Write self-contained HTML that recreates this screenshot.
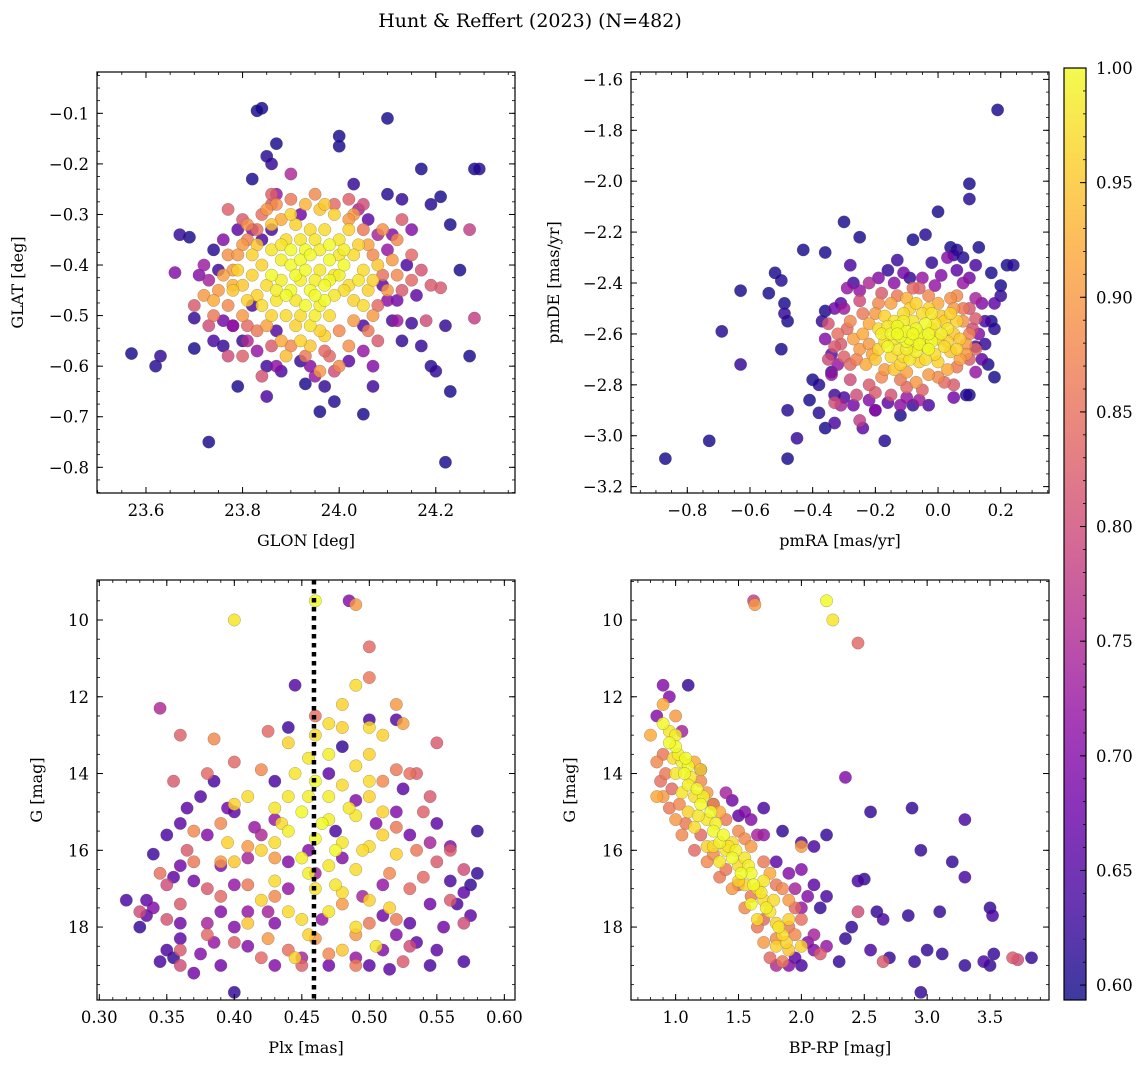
<!DOCTYPE html>
<html><head><meta charset="utf-8"><style>
html,body{margin:0;padding:0;background:#fff;}
svg{display:block;font-family:"DejaVu Serif","Liberation Serif",serif;}
</style></head><body>
<svg id="fig" width="1148" height="1068" viewBox="0 0 1148 1068">
<text x="530" y="27" font-size="19" text-anchor="middle">Hunt &amp; Reffert (2023) (N=482)</text>
</svg>
<script>
// ---- data: [x, y, membership probability] ----
const glonGlat = [
[23.57,-0.575,0.6],[23.62,-0.6,0.61],[23.63,-0.58,0.62],[23.67,-0.34,0.62],[23.69,-0.345,0.6],[23.66,-0.415,0.7],[23.70,-0.505,0.62],[23.70,-0.565,0.6],[23.73,-0.75,0.6],[23.74,-0.37,0.61],[23.75,-0.41,0.63],[23.76,-0.56,0.62],[23.79,-0.64,0.6],[23.82,-0.23,0.6],[23.84,-0.09,0.6],[23.83,-0.095,0.6],[23.85,-0.185,0.61],[23.87,-0.16,0.6],[23.86,-0.20,0.62],[23.90,-0.22,0.75],[23.96,-0.69,0.6],[23.99,-0.67,0.61],[24.0,-0.145,0.6],[24.0,-0.165,0.6],[24.03,-0.24,0.62],[24.05,-0.695,0.6],[24.07,-0.64,0.63],[24.10,-0.11,0.6],[24.10,-0.26,0.61],[24.13,-0.27,0.62],[24.17,-0.21,0.6],[24.19,-0.28,0.61],[24.21,-0.265,0.6],[24.22,-0.79,0.6],[24.23,-0.65,0.6],[24.20,-0.61,0.62],[24.19,-0.60,0.61],[24.23,-0.32,0.6],[24.25,-0.41,0.6],[24.27,-0.58,0.6],[24.28,-0.21,0.6],[24.29,-0.21,0.61],[24.27,-0.33,0.78],[24.28,-0.505,0.78],[24.17,-0.56,0.62],[24.15,-0.515,0.63],[24.22,-0.52,0.62],[24.21,-0.445,0.82],[24.13,-0.55,0.62],[24.11,-0.51,0.64],[23.93,-0.635,0.6],[23.92,-0.59,0.62],[23.85,-0.60,0.63],[23.80,-0.55,0.62],[23.82,-0.48,0.64],[23.78,-0.52,0.7],[23.87,-0.53,0.65],[24.05,-0.52,0.64],[24.09,-0.44,0.66],[23.86,-0.33,0.64],
[23.90,-0.40,1.0],[23.92,-0.43,0.99],[23.94,-0.45,1.0],[23.96,-0.41,0.98],[23.98,-0.39,1.0],[24.00,-0.42,0.99],[24.02,-0.44,0.97],[23.93,-0.37,1.0],[23.95,-0.35,0.98],[23.97,-0.33,0.97],[23.99,-0.30,0.96],[23.88,-0.43,0.99],[23.87,-0.47,0.98],[23.89,-0.50,0.97],[23.91,-0.52,0.96],[23.93,-0.48,1.0],[23.95,-0.50,0.99],[23.97,-0.47,1.0],[23.99,-0.46,0.98],[24.01,-0.40,1.0],[24.03,-0.38,0.97],[24.04,-0.43,0.98],[24.06,-0.45,0.96],[24.05,-0.48,0.97],[23.85,-0.44,0.97],[23.84,-0.40,0.96],[23.86,-0.37,0.98],[23.89,-0.35,0.97],[23.91,-0.32,0.96],[23.96,-0.29,0.95],[24.00,-0.35,0.98],[24.02,-0.33,0.96],[23.94,-0.56,0.95],[23.97,-0.54,0.96],[24.08,-0.40,0.95],[23.83,-0.46,0.96],[23.92,-0.39,1.0],[23.98,-0.43,1.0],[24.01,-0.37,0.99],[23.90,-0.45,1.0],[23.83,-0.36,0.95],[23.82,-0.42,0.96],[23.89,-0.58,0.94],
[23.86,-0.42,1.0],[23.88,-0.39,0.99],[23.90,-0.37,1.0],[23.92,-0.35,0.98],[23.94,-0.38,1.0],[23.96,-0.37,0.99],[23.98,-0.36,1.0],[24.00,-0.38,0.98],[23.91,-0.42,1.0],[23.93,-0.41,1.0],[23.95,-0.43,0.99],[23.97,-0.44,1.0],[23.99,-0.42,0.98],[24.01,-0.45,0.97],[23.87,-0.45,0.99],[23.89,-0.46,1.0],[23.91,-0.47,0.98],[23.95,-0.46,1.0],[23.96,-0.48,0.99],[23.92,-0.50,0.97],[23.94,-0.52,0.98],[23.96,-0.53,0.96],[23.80,-0.44,0.95],[23.81,-0.47,0.96],[23.78,-0.45,0.95],[23.79,-0.41,0.96],[23.84,-0.48,0.97],[23.86,-0.50,0.96],[24.05,-0.41,0.97],[24.07,-0.43,0.96],[23.94,-0.33,0.97],[23.90,-0.30,0.96],[23.86,-0.32,0.95],[23.97,-0.28,0.95],[23.92,-0.55,0.96],[23.98,-0.50,0.97],[24.03,-0.47,0.96],[23.82,-0.38,0.96],[23.88,-0.36,0.98],[24.04,-0.36,0.96],
[23.72,-0.46,0.9],[23.74,-0.47,0.92],[23.76,-0.42,0.91],[23.78,-0.44,0.93],[23.80,-0.36,0.9],[23.81,-0.32,0.89],[23.85,-0.29,0.9],[23.88,-0.31,0.92],[23.93,-0.28,0.93],[24.03,-0.30,0.9],[24.06,-0.36,0.91],[24.09,-0.33,0.89],[24.11,-0.39,0.9],[24.12,-0.42,0.88],[24.07,-0.50,0.9],[24.02,-0.56,0.89],[24.00,-0.60,0.88],[23.96,-0.61,0.9],[23.88,-0.55,0.92],[23.85,-0.52,0.91],[23.80,-0.50,0.9],[23.77,-0.38,0.89],[24.12,-0.35,0.88],
[23.75,-0.45,0.9],[23.74,-0.50,0.86],[23.77,-0.48,0.88],[23.79,-0.38,0.9],[23.81,-0.35,0.87],[23.84,-0.30,0.85],[23.87,-0.28,0.89],[23.90,-0.27,0.86],[23.95,-0.26,0.88],[23.99,-0.28,0.84],[24.02,-0.31,0.9],[24.05,-0.33,0.86],[24.07,-0.38,0.88],[24.09,-0.42,0.85],[24.10,-0.45,0.9],[24.08,-0.48,0.84],[24.06,-0.53,0.86],[24.03,-0.51,0.9],[24.00,-0.53,0.88],[23.98,-0.58,0.84],[23.93,-0.58,0.86],[23.90,-0.56,0.88],[23.86,-0.56,0.82],[23.83,-0.53,0.86],[23.81,-0.52,0.84],[23.78,-0.41,0.9],[24.13,-0.45,0.82],[24.15,-0.43,0.84],[24.19,-0.44,0.82],[23.86,-0.26,0.83],[23.80,-0.31,0.82],
[23.70,-0.48,0.82],[23.73,-0.52,0.8],[23.77,-0.29,0.83],[23.83,-0.33,0.85],[23.86,-0.28,0.82],[24.02,-0.27,0.83],[24.05,-0.28,0.8],[24.13,-0.31,0.82],[24.15,-0.38,0.84],[24.17,-0.41,0.81],[24.08,-0.55,0.82],[23.97,-0.57,0.84],[23.99,-0.61,0.8],[23.84,-0.62,0.81],[23.80,-0.58,0.83],[23.77,-0.58,0.8],[24.18,-0.51,0.8],
[23.72,-0.40,0.73],[23.78,-0.52,0.72],[23.81,-0.55,0.75],[23.82,-0.33,0.7],[24.08,-0.34,0.74],[24.10,-0.37,0.72],[24.10,-0.47,0.71],[24.12,-0.51,0.73],[23.95,-0.62,0.72],[24.07,-0.60,0.7],[23.73,-0.43,0.74],[23.87,-0.60,0.71],
[23.76,-0.35,0.7],[23.79,-0.33,0.66],[23.84,-0.35,0.64],[23.87,-0.26,0.72],[23.92,-0.30,0.68],[24.04,-0.29,0.74],[24.06,-0.31,0.66],[24.11,-0.34,0.7],[24.14,-0.40,0.64],[24.12,-0.47,0.68],[24.05,-0.57,0.72],[24.02,-0.59,0.66],[23.94,-0.60,0.7],[23.88,-0.61,0.64],[23.83,-0.57,0.72],[23.76,-0.51,0.68],[23.74,-0.55,0.64],[23.71,-0.42,0.7],[24.16,-0.46,0.66],[23.97,-0.64,0.62],[23.85,-0.66,0.64],[24.15,-0.33,0.7]
];
const pmraPmde = [
[-0.87,-3.09,0.6],[-0.73,-3.02,0.6],[-0.69,-2.59,0.61],[-0.63,-2.43,0.6],[-0.63,-2.72,0.62],[-0.54,-2.44,0.6],[-0.52,-2.36,0.6],[-0.50,-2.39,0.61],[-0.49,-2.48,0.6],[-0.49,-2.52,0.62],[-0.48,-2.55,0.6],[-0.50,-2.66,0.6],[-0.48,-2.90,0.61],[-0.48,-3.09,0.6],[-0.45,-3.01,0.62],[-0.43,-2.27,0.6],[-0.41,-2.86,0.6],[-0.40,-2.78,0.6],[-0.38,-2.80,0.61],[-0.37,-2.55,0.62],[-0.36,-2.51,0.6],[-0.36,-2.28,0.6],[-0.38,-2.91,0.61],[-0.36,-2.97,0.6],[-0.34,-2.75,0.62],[-0.33,-2.84,0.63],[-0.30,-2.16,0.6],[-0.25,-2.22,0.6],[0.19,-1.72,0.6],[0.10,-2.01,0.6],[0.10,-2.07,0.61],[0.00,-2.12,0.6],[-0.08,-2.23,0.6],[-0.04,-2.21,0.61],[-0.02,-2.32,0.62],[0.04,-2.26,0.6],[0.06,-2.27,0.61],[0.13,-2.26,0.6],[0.17,-2.36,0.6],[0.22,-2.33,0.6],[0.24,-2.33,0.61],[0.20,-2.41,0.6],[0.20,-2.45,0.62],[0.17,-2.55,0.6],[0.18,-2.58,0.61],[0.15,-2.64,0.62],[0.12,-2.65,0.63],[0.16,-2.72,0.6],[0.18,-2.77,0.6],[0.09,-2.84,0.61],[0.10,-2.84,0.6],[-0.17,-3.02,0.61],[-0.12,-2.92,0.6],[-0.08,-2.88,0.62],[-0.20,-2.90,0.7],[-0.30,-2.85,0.64],[-0.27,-2.40,0.63],[-0.31,-2.48,0.65],[-0.16,-2.35,0.62],[-0.13,-2.31,0.63],[-0.09,-2.38,0.62],[0.05,-2.29,0.62],[0.08,-2.30,0.61],
[-0.15,-2.60,1.0],[-0.12,-2.58,0.99],[-0.10,-2.63,1.0],[-0.08,-2.55,0.98],[-0.06,-2.60,1.0],[-0.04,-2.65,0.99],[-0.02,-2.58,0.98],[0.00,-2.62,0.97],[0.02,-2.55,0.96],[-0.13,-2.66,0.98],[-0.11,-2.69,0.97],[-0.09,-2.62,1.0],[-0.07,-2.67,0.99],[-0.05,-2.52,0.97],[-0.03,-2.50,0.96],[-0.01,-2.68,0.97],[0.03,-2.63,0.96],[0.05,-2.60,0.95],[-0.17,-2.63,0.97],[-0.19,-2.66,0.96],[-0.14,-2.55,0.98],[-0.09,-2.50,0.96],[-0.06,-2.71,0.96],[0.01,-2.53,0.95],[-0.20,-2.70,0.95],[-0.16,-2.57,0.98],[-0.04,-2.56,1.0],[0.04,-2.67,0.95],[-0.12,-2.61,1.0],[-0.02,-2.63,1.0],
[-0.18,-2.60,0.99],[-0.16,-2.65,1.0],[-0.14,-2.62,0.98],[-0.13,-2.57,1.0],[-0.11,-2.55,0.99],[-0.10,-2.59,1.0],[-0.08,-2.65,0.98],[-0.07,-2.58,1.0],[-0.05,-2.62,0.99],[-0.03,-2.60,1.0],[-0.01,-2.56,0.98],[0.01,-2.60,0.99],[0.02,-2.65,0.97],[0.03,-2.58,0.98],[0.06,-2.55,0.96],[0.07,-2.62,0.95],[-0.15,-2.69,0.97],[-0.12,-2.72,0.96],[-0.09,-2.70,0.98],[-0.04,-2.70,0.97],[0.00,-2.71,0.96],[-0.11,-2.52,0.97],[-0.07,-2.48,0.96],[-0.02,-2.52,0.98],[-0.17,-2.53,0.96],[-0.06,-2.64,1.0],[-0.10,-2.66,0.99],[-0.03,-2.66,1.0],[0.04,-2.52,0.96],[-0.08,-2.60,1.0],[-0.14,-2.74,0.95],[-0.13,-2.60,1.0],[0.06,-2.66,0.96],[-0.19,-2.58,0.97],
[-0.25,-2.66,0.9],[-0.27,-2.62,0.91],[-0.22,-2.56,0.92],[-0.20,-2.52,0.9],[-0.15,-2.48,0.91],[-0.10,-2.46,0.93],[0.00,-2.48,0.92],[0.05,-2.50,0.9],[0.08,-2.55,0.89],[0.09,-2.64,0.9],[0.07,-2.70,0.91],[0.03,-2.74,0.92],[-0.03,-2.76,0.9],[-0.10,-2.75,0.91],[-0.17,-2.74,0.9],[-0.23,-2.72,0.92],[-0.28,-2.55,0.88],[0.06,-2.45,0.88],
[-0.24,-2.60,0.92],[-0.22,-2.64,0.9],[-0.21,-2.68,0.91],[-0.26,-2.70,0.87],[-0.18,-2.77,0.88],[-0.12,-2.78,0.86],[-0.07,-2.79,0.9],[0.00,-2.77,0.88],[0.06,-2.73,0.86],[0.09,-2.68,0.9],[0.10,-2.60,0.87],[0.08,-2.50,0.86],[0.04,-2.46,0.89],[-0.03,-2.45,0.88],[-0.13,-2.45,0.86],[-0.19,-2.48,0.88],[-0.24,-2.52,0.86],[-0.29,-2.58,0.84],[-0.31,-2.64,0.82],[-0.28,-2.72,0.84],[-0.20,-2.83,0.82],[-0.10,-2.81,0.84],[0.05,-2.80,0.82],[0.12,-2.54,0.82],[0.12,-2.66,0.84],[-0.26,-2.84,0.8],[-0.35,-2.70,0.8],[-0.08,-2.42,0.84],
[-0.33,-2.65,0.82],[-0.30,-2.69,0.83],[-0.32,-2.60,0.85],[-0.28,-2.78,0.8],[-0.22,-2.80,0.82],[-0.15,-2.84,0.81],[-0.05,-2.82,0.83],[0.02,-2.79,0.84],[0.10,-2.70,0.82],[0.11,-2.58,0.8],[0.10,-2.50,0.81],[-0.06,-2.42,0.83],[-0.18,-2.44,0.82],[-0.25,-2.47,0.8],[-0.35,-2.56,0.81],[-0.25,-2.94,0.78],[-0.33,-2.87,0.8],
[-0.30,-2.50,0.73],[-0.29,-2.42,0.72],[-0.22,-2.40,0.75],[-0.14,-2.40,0.71],[0.08,-2.40,0.72],[0.12,-2.46,0.74],[0.13,-2.60,0.7],[0.12,-2.75,0.72],[-0.06,-2.86,0.73],[-0.12,-2.88,0.71],[-0.20,-2.90,0.7],[-0.34,-2.76,0.72],[-0.31,-2.88,0.74],[0.03,-2.30,0.7],[-0.01,-2.41,0.72],
[-0.36,-2.62,0.7],[-0.34,-2.68,0.66],[-0.32,-2.72,0.72],[-0.27,-2.88,0.68],[-0.22,-2.86,0.7],[-0.16,-2.87,0.66],[-0.10,-2.85,0.72],[-0.03,-2.88,0.64],[0.05,-2.85,0.68],[0.14,-2.70,0.66],[0.15,-2.55,0.64],[0.14,-2.48,0.7],[0.10,-2.38,0.68],[0.06,-2.35,0.66],[0.01,-2.37,0.7],[-0.05,-2.38,0.72],[-0.11,-2.36,0.68],[-0.19,-2.38,0.7],[-0.25,-2.43,0.72],[-0.33,-2.50,0.68],[-0.28,-2.33,0.64],[-0.33,-2.95,0.64],[-0.24,-2.97,0.66],[0.12,-2.33,0.64],[0.18,-2.48,0.66]
];
const plxG = [
[0.46,9.5,1.0],[0.40,10.0,0.98],[0.49,11.7,0.97],[0.47,12.7,0.97],[0.48,12.8,0.96],[0.50,12.8,0.97],[0.455,13.6,0.98],[0.47,13.5,0.99],[0.49,13.8,0.97],[0.50,13.5,0.96],[0.445,14.0,0.98],[0.46,14.2,1.0],[0.48,14.3,0.97],[0.50,14.6,0.96],[0.40,14.8,0.96],[0.41,14.6,0.97],[0.43,14.9,0.98],[0.45,15.0,1.0],[0.47,15.2,0.99],[0.49,15.1,0.98],[0.51,15.0,0.96],[0.44,15.5,0.99],[0.46,15.7,1.0],[0.48,15.8,0.98],[0.50,15.9,0.97],[0.42,16.0,0.96],[0.45,16.2,0.99],[0.47,16.4,0.98],[0.49,16.5,0.97],[0.52,16.1,0.96],[0.43,16.8,0.97],[0.46,17.0,0.98],[0.48,17.1,0.97],[0.50,17.3,0.96],[0.44,17.6,0.97],[0.455,18.2,0.96],[0.49,18.0,0.97],[0.505,18.5,0.98],[0.41,17.9,0.95],[0.395,15.8,0.96],[0.47,14.6,0.99],[0.51,13.0,0.96],[0.475,16.0,1.0],[0.435,15.3,0.97],
[0.44,13.2,0.96],[0.46,13.0,0.97],[0.48,12.2,0.96],[0.455,14.6,0.99],[0.465,15.3,1.0],[0.485,14.9,0.98],[0.50,14.2,0.97],[0.44,14.6,0.98],[0.43,15.8,0.97],[0.455,16.6,0.99],[0.475,16.9,0.98],[0.495,16.0,0.97],[0.51,15.6,0.96],[0.42,17.3,0.96],[0.45,17.8,0.97],[0.47,17.6,0.98],[0.515,17.5,0.96],[0.40,16.3,0.95],[0.445,18.8,0.96],[0.48,18.6,0.95],
[0.49,9.6,0.9],[0.50,10.7,0.84],[0.385,13.1,0.88],[0.36,13.0,0.83],[0.52,12.2,0.9],[0.525,12.7,0.91],[0.55,13.2,0.82],[0.53,14.0,0.85],[0.535,14.0,0.83],[0.355,14.2,0.82],[0.37,15.5,0.88],[0.39,16.3,0.9],[0.41,16.9,0.86],[0.425,18.3,0.9],[0.44,18.6,0.85],[0.47,18.7,0.88],[0.49,18.2,0.9],[0.52,17.8,0.86],[0.54,16.7,0.84],[0.55,16.3,0.82],[0.345,16.6,0.85],[0.36,17.4,0.82],[0.38,18.2,0.84],[0.40,18.4,0.83],[0.43,16.2,0.9],[0.52,15.4,0.86],[0.54,15.0,0.83],[0.42,13.9,0.88],[0.46,12.5,0.85],[0.50,11.5,0.86],[0.56,17.3,0.82],[0.57,17.9,0.8],[0.35,17.8,0.81],[0.515,16.6,0.88],[0.48,17.4,0.9],[0.39,17.2,0.84],[0.365,16.0,0.82],[0.53,18.5,0.8],[0.45,19.0,0.83],
[0.38,14.0,0.84],[0.37,16.3,0.86],[0.39,15.3,0.88],[0.41,15.9,0.9],[0.43,17.2,0.88],[0.46,18.3,0.9],[0.50,17.9,0.86],[0.53,17.0,0.84],[0.535,16.0,0.86],[0.545,14.6,0.82],[0.51,14.2,0.88],[0.425,12.9,0.84],[0.38,17.0,0.82],[0.35,16.9,0.8],[0.33,17.6,0.8],[0.56,16.0,0.82],[0.57,16.5,0.8],[0.52,13.9,0.86],[0.40,13.7,0.84],[0.36,18.6,0.82],[0.42,18.8,0.84],[0.49,19.0,0.86],[0.525,18.9,0.82],
[0.485,9.5,0.7],[0.345,12.3,0.75],[0.445,11.7,0.65],[0.44,12.8,0.63],[0.52,12.6,0.65],[0.58,15.5,0.62],[0.40,19.7,0.62],[0.57,18.9,0.64],[0.36,19.0,0.8],[0.33,18.0,0.62],[0.32,17.3,0.64],[0.335,17.3,0.66],[0.34,17.5,0.7],[0.35,18.6,0.64],[0.355,18.8,0.62],[0.36,18.3,0.66],[0.375,18.7,0.7],[0.39,19.0,0.68],[0.34,16.1,0.63],[0.36,15.3,0.66],[0.375,14.6,0.65],[0.38,15.6,0.7],[0.40,15.0,0.66],[0.43,14.2,0.64],[0.415,15.4,0.72],[0.39,16.4,0.7],[0.37,16.8,0.68],[0.355,16.7,0.66],[0.41,17.6,0.72],[0.43,17.9,0.7],[0.45,18.8,0.74],[0.47,19.0,0.68],[0.49,18.8,0.72],[0.51,18.6,0.7],[0.53,17.9,0.66],[0.545,17.4,0.68],[0.56,16.8,0.64],[0.57,17.1,0.66],[0.575,16.9,0.62],[0.56,15.9,0.7],[0.545,15.8,0.74],[0.53,15.6,0.68],[0.50,12.6,0.64],[0.48,13.3,0.62],[0.49,14.7,0.7],[0.51,16.9,0.72],[0.46,16.6,0.74],[0.44,16.3,0.7],[0.42,15.6,0.75],[0.40,16.9,0.72],[0.38,17.9,0.74],[0.36,17.9,0.68],[0.55,18.6,0.66],[0.52,18.2,0.7],[0.50,19.0,0.66],[0.43,19.0,0.7],[0.465,17.8,0.72],[0.475,15.5,0.64],[0.505,15.3,0.7],[0.525,14.4,0.66],[0.385,14.2,0.64],[0.41,18.5,0.7],[0.575,17.7,0.66],
[0.335,17.7,0.66],[0.345,18.9,0.64],[0.37,19.2,0.68],[0.385,18.4,0.72],[0.40,18.0,0.7],[0.425,17.6,0.74],[0.44,17.0,0.72],[0.455,16.0,0.7],[0.47,14.0,0.66],[0.48,16.2,0.7],[0.495,17.2,0.74],[0.51,17.7,0.68],[0.535,18.4,0.66],[0.555,18.0,0.68],[0.565,17.4,0.64],[0.58,16.6,0.62],[0.55,15.3,0.66],[0.52,15.0,0.7],[0.36,16.4,0.68],[0.35,15.6,0.64],[0.39,17.6,0.7],[0.41,16.2,0.74],[0.43,15.2,0.72],[0.395,14.9,0.68],[0.365,14.9,0.66],[0.545,19.0,0.64],[0.515,19.1,0.66]
];
const bprpG = [
[0.9,12.7,1.0],[0.95,12.9,0.98],[1.0,13.3,1.0],[1.05,13.7,0.99],[1.1,13.8,1.0],[1.0,14.0,0.98],[1.1,14.3,0.99],[1.15,14.6,0.97],[1.2,14.8,1.0],[1.1,15.0,0.96],[1.25,15.2,0.98],[1.3,15.5,1.0],[1.35,15.8,0.99],[1.25,15.9,0.96],[1.4,16.0,0.98],[1.45,16.2,1.0],[1.5,16.4,0.97],[1.55,16.2,0.98],[1.6,16.6,1.0],[1.55,16.9,0.96],[1.65,17.0,0.98],[1.6,17.4,1.0],[1.7,17.3,0.97],[1.75,17.6,0.98],[1.8,17.9,0.96],[1.85,18.2,0.97],[1.8,18.5,0.96],[1.9,18.6,0.95],[2.0,18.5,0.96],[1.2,13.9,0.97],[1.05,14.5,0.98],[1.45,15.8,0.97],[1.7,16.8,0.98],[1.65,17.8,0.97],[1.9,17.8,0.96],[2.2,9.5,1.0],[2.25,10.0,0.98],[1.0,13.0,0.99],[1.15,15.4,0.97],[1.35,16.3,0.98],
[0.95,13.2,1.0],[1.02,13.5,0.99],[1.07,14.0,1.0],[1.12,14.1,0.98],[1.17,14.4,1.0],[1.22,14.6,0.99],[1.18,15.1,0.98],[1.28,15.0,1.0],[1.32,15.3,0.99],[1.38,15.6,1.0],[1.42,15.9,0.98],[1.48,16.0,0.99],[1.52,16.6,1.0],[1.58,16.4,0.99],[1.62,16.9,1.0],[1.68,17.1,0.98],[1.72,17.5,0.99],[1.78,17.3,0.97],[1.82,18.0,0.98],[1.88,18.4,0.96],[1.3,15.9,0.97],[1.5,16.8,0.96],[1.08,13.6,1.0],[0.98,13.6,0.97],
[0.8,13.0,0.92],[0.85,13.7,0.88],[0.88,14.2,0.85],[0.9,14.6,0.9],[0.95,14.9,0.86],[1.0,15.2,0.9],[1.05,15.6,0.88],[1.15,16.0,0.84],[1.25,16.3,0.88],[1.35,16.7,0.86],[1.45,17.0,0.9],[1.55,17.5,0.88],[1.65,18.0,0.86],[1.7,18.4,0.9],[1.75,18.8,0.84],[1.85,18.9,0.86],[1.95,18.2,0.88],[2.0,17.8,0.85],[1.9,17.3,0.9],[1.75,16.6,0.92],[1.6,15.9,0.9],[1.5,15.5,0.88],[1.35,15.0,0.92],[1.25,14.5,0.9],[1.15,13.7,0.92],[1.0,12.5,0.9],[0.9,12.2,0.92],[1.63,9.6,0.9],[1.62,9.5,0.78],[2.45,10.6,0.84],[2.45,17.6,0.8],[2.65,18.9,0.82],[3.68,18.8,0.82],[3.72,18.85,0.8],[0.85,14.6,0.92],[2.0,15.9,0.9],[2.15,18.7,0.82],[1.8,16.9,0.86],
[0.92,14.0,0.86],[0.97,14.4,0.84],[1.03,14.8,0.88],[1.08,15.3,0.86],[1.2,15.6,0.84],[1.3,16.1,0.88],[1.4,16.5,0.86],[1.5,16.9,0.84],[1.6,17.2,0.86],[1.7,17.8,0.84],[1.8,18.3,0.88],[1.9,18.0,0.86],[1.95,17.5,0.84],[1.85,17.0,0.88],[1.7,16.3,0.86],[1.55,15.7,0.88],[1.4,15.2,0.86],[1.3,14.8,0.9],[1.2,14.2,0.88],[0.9,13.5,0.86],
[0.9,11.7,0.7],[1.1,11.7,0.62],[1.3,14.8,0.68],[1.5,15.1,0.66],[1.7,14.9,0.64],[1.85,15.5,0.62],[2.0,15.8,0.64],[2.2,15.6,0.62],[2.1,15.9,0.64],[2.35,14.1,0.7],[2.55,15.0,0.62],[2.88,14.9,0.62],[3.3,15.2,0.64],[3.2,16.3,0.62],[2.95,16.0,0.62],[3.3,16.7,0.64],[3.5,17.5,0.62],[3.52,17.7,0.64],[3.1,17.6,0.62],[2.85,17.7,0.62],[2.6,17.6,0.62],[2.65,17.8,0.64],[2.5,16.75,0.62],[2.45,16.8,0.64],[2.4,18.0,0.62],[2.35,18.3,0.62],[2.3,18.9,0.62],[2.55,18.6,0.64],[2.7,18.8,0.62],[2.9,18.9,0.62],[2.95,19.7,0.62],[3.0,18.6,0.62],[3.12,18.7,0.62],[3.3,19.0,0.62],[3.45,18.9,0.64],[3.5,19.0,0.62],[3.53,18.7,0.62],[3.83,18.8,0.62],[2.2,17.2,0.64],[2.15,17.5,0.62],[2.1,16.9,0.66],[2.05,17.2,0.7],[2.0,19.0,0.64],[1.9,19.0,0.7],[1.8,19.0,0.75],[2.1,18.6,0.7],[2.2,18.5,0.72],[1.95,17.0,0.74],[2.0,16.5,0.7],[1.7,15.6,0.72],[1.6,15.2,0.7],[1.4,14.5,0.74],[1.2,13.9,0.72],[0.95,12.0,0.7],[2.1,18.2,0.74],
[1.95,18.8,0.66],[2.05,18.4,0.7],[2.0,17.5,0.72],[1.9,16.6,0.7],[1.8,16.3,0.66],[1.65,15.6,0.74],[1.55,15.0,0.7],[1.45,14.7,0.68],[1.05,12.9,0.74],[0.85,12.5,0.7]
];
const glonTicks = [23.6,23.8,24.0,24.2];
const glatTicks = [-0.1,-0.2,-0.3,-0.4,-0.5,-0.6,-0.7,-0.8];
const pmraTicks = [-0.8,-0.6,-0.4,-0.2,0.0,0.2];
const pmdeTicks = [-1.6,-1.8,-2.0,-2.2,-2.4,-2.6,-2.8,-3.0,-3.2];
const plxTicks = [0.30,0.35,0.40,0.45,0.50,0.55,0.60];
const gTicks = [10,12,14,16,18];
const bprpTicks = [1.0,1.5,2.0,2.5,3.0,3.5];
const cbarTicks = [0.60,0.65,0.70,0.75,0.80,0.85,0.90,0.95,1.00];
const plxMedian = [0.459];

const NS="http://www.w3.org/2000/svg";
const svg=document.getElementById('fig');
function el(tag,attrs,parent){const e=document.createElementNS(NS,tag);for(const k in attrs)e.setAttribute(k,attrs[k]);(parent||svg).appendChild(e);return e;}
const cmapStops=["#0d0887","#41049d","#6a00a8","#8f0da4","#b12a90","#cc4778","#e16462","#f2844b","#fca636","#fcce25","#f0f921"];
function hex(h){return [1,3,5].map(i=>parseInt(h.substr(i,2),16));}
const CMIN=0.5935,CMAX=1.0;
function cmap(p){let t=(p-CMIN)/(CMAX-CMIN);t=Math.max(0,Math.min(1,t));const s=t*10,i=Math.min(9,Math.floor(s)),f=s-i;const a=hex(cmapStops[i]),b=hex(cmapStops[i+1]);return 'rgb('+a.map((v,k)=>Math.round(v+(b[k]-v)*f)).join(',')+')';}
function fmt(v,d){return (v<0?'\u2212':'')+Math.abs(v).toFixed(d);}
const defs=el('defs',{});
let clipN=0;

function panel(o){
  const g=el('g',{});
  
  
  const cid='clip'+(clipN++);
  const cp=el('clipPath',{id:cid},defs);el('rect',{x:o.L,y:o.T,width:o.R-o.L,height:o.B-o.T},cp);
  const X=v=>o.L+(v-o.x0)/(o.x1-o.x0)*(o.R-o.L);
  const Y=o.yInv?(v=>o.T+(v-o.y0)/(o.y1-o.y0)*(o.B-o.T)):(v=>o.B-(v-o.y0)/(o.y1-o.y0)*(o.B-o.T));
  const pg=el('g',{'clip-path':'url(#'+cid+')'},g);
  const pts=o.data.slice().sort((a,b)=>a[2]-b[2]);
  pts.forEach(d=>{
    const c=el('circle',{cx:X(d[0]),cy:Y(d[1]),r:6.2,fill:cmap(d[2]),'fill-opacity':0.82,stroke:'#555','stroke-width':0.5,'stroke-opacity':0.5},pg);
    
    
  });
  if(o.vline){o.vline.forEach(v=>{const l=el('line',{x1:X(v),x2:X(v),y1:o.T,y2:o.B,stroke:'#000','stroke-width':4.5,'stroke-dasharray':'4.5,4.5'},g);
    
    });}
  const fr=el('rect',{x:o.L,y:o.T,width:o.R-o.L,height:o.B-o.T,fill:'none',stroke:'#000','stroke-width':1.2},g);
  
  
  const eps=1e-9;
  for(let v=Math.ceil(o.x0/o.xm-eps)*o.xm;v<=o.x1+eps;v+=o.xm){const x=X(v);el('line',{x1:x,x2:x,y1:o.B,y2:o.B-3,stroke:'#000','stroke-width':0.8},g);el('line',{x1:x,x2:x,y1:o.T,y2:o.T+3,stroke:'#000','stroke-width':0.8},g);}
  const ya=Math.min(o.y0,o.y1),yb=Math.max(o.y0,o.y1);
  for(let v=Math.ceil(ya/o.ym-eps)*o.ym;v<=yb+eps;v+=o.ym){const y=Y(v);el('line',{x1:o.L,x2:o.L+3,y1:y,y2:y,stroke:'#000','stroke-width':0.8},g);el('line',{x1:o.R,x2:o.R-3,y1:y,y2:y,stroke:'#000','stroke-width':0.8},g);}
  o.xt.forEach(v=>{const x=X(v);el('line',{x1:x,x2:x,y1:o.B,y2:o.B-6,stroke:'#000','stroke-width':1},g);el('line',{x1:x,x2:x,y1:o.T,y2:o.T+6,stroke:'#000','stroke-width':1},g);
    const t=el('text',{x:x,y:o.B+23,'font-size':16.5,'text-anchor':'middle'},g);t.textContent=fmt(v,o.xd);
    
    });
  o.yt.forEach(v=>{const y=Y(v);el('line',{x1:o.L,x2:o.L+6,y1:y,y2:y,stroke:'#000','stroke-width':1},g);el('line',{x1:o.R,x2:o.R-6,y1:y,y2:y,stroke:'#000','stroke-width':1},g);
    const t=el('text',{x:o.L-8,y:y+6,'font-size':16.5,'text-anchor':'end'},g);t.textContent=fmt(v,o.yd);
    
    });
  const xl=el('text',{x:(o.L+o.R)/2,y:o.B+53,'font-size':16,'text-anchor':'middle'},g);xl.textContent=o.xlab;
  
  
  const yx=o.ylx,yy=(o.T+o.B)/2;
  const yl=el('text',{x:yx,y:yy,'font-size':16,'text-anchor':'middle',transform:'rotate(-90 '+yx+' '+yy+')'},g);yl.textContent=o.ylab;
  
  
}
panel({name:'glon-glat-panel',L:97,R:515,T:72,B:493,x0:23.4986,x1:24.364,y0:-0.8508,y1:-0.0183,xm:0.05,ym:0.025,xt:glonTicks,yt:glatTicks,xd:1,yd:1,xlab:'GLON [deg]',ylab:'GLAT [deg]',ylx:23,data:glonGlat});
panel({name:'proper-motion-panel',L:631,R:1049,T:72,B:493,x0:-0.9796,x1:0.354,y0:-3.225,y1:-1.571,xm:0.05,ym:0.05,xt:pmraTicks,yt:pmdeTicks,xd:1,yd:1,xlab:'pmRA [mas/yr]',ylab:'pmDE [mas/yr]',ylx:559,data:pmraPmde});
panel({name:'parallax-magnitude-panel',L:97,R:515,T:580,B:1000,x0:0.2983,x1:0.6079,y0:8.958,y1:19.9,yInv:true,xm:0.01,ym:0.5,xt:plxTicks,yt:gTicks,xd:2,yd:0,xlab:'Plx [mas]',ylab:'G [mag]',ylx:42,data:plxG,vline:plxMedian});
panel({name:'color-magnitude-panel',L:631,R:1049,T:580,B:1000,x0:0.645,x1:3.969,y0:8.958,y1:19.9,yInv:true,xm:0.1,ym:0.5,xt:bprpTicks,yt:gTicks,xd:1,yd:0,xlab:'BP-RP [mag]',ylab:'G [mag]',ylx:575,data:bprpG});

// colorbar
const cb=el('g',{});


const lg=el('linearGradient',{id:'cg',x1:0,y1:1,x2:0,y2:0},defs);
cmapStops.forEach((c,i)=>el('stop',{offset:(i*10)+'%','stop-color':c},lg));
const CT=68,CB=1000,CL=1064,CR=1086;
el('rect',{x:CL,y:CT,width:CR-CL,height:CB-CT,fill:'url(#cg)','fill-opacity':0.8},cb);
el('rect',{x:CL,y:CT,width:CR-CL,height:CB-CT,fill:'none',stroke:'#000','stroke-width':1.2},cb);
const CY=v=>CB-(v-CMIN)/(CMAX-CMIN)*(CB-CT);
for(let v=0.60;v<=1.0001;v+=0.01){el('line',{x1:CR,x2:CR-3,y1:CY(v),y2:CY(v),stroke:'#000','stroke-width':0.8},cb);}
cbarTicks.forEach(v=>{const y=CY(v);el('line',{x1:CR,x2:CR-6,y1:y,y2:y,stroke:'#000','stroke-width':1},cb);
  const t=el('text',{x:CR+10,y:y+6,'font-size':16.5},cb);t.textContent=v.toFixed(2);
  
  });
</script>
</body></html>
